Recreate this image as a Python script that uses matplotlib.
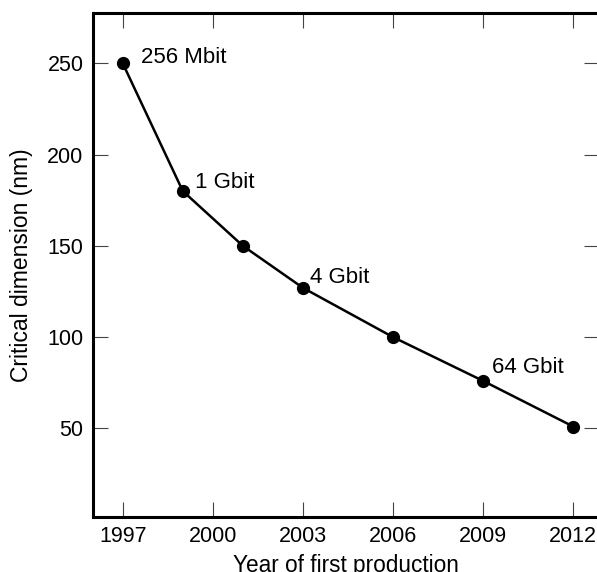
import matplotlib
matplotlib.use('Agg')
import matplotlib.pyplot as plt

years = [1997, 1999, 2001, 2003, 2006, 2009, 2012]
dims = [250, 180, 150, 127, 100, 76, 51]
labels = ['256 Mbit', '1 Gbit', '', '4 Gbit', '', '64 Gbit', '']
# label offsets in points (dx, dy) from the marker
offsets = [(13, 0), (8.6, 2), (0, 0), (5, 3.4), (0, 0), (6.5, 5.8), (0, 0)]

xticks = [1997, 2000, 2003, 2006, 2009, 2012]
yticks = [50, 100, 150, 200, 250]

plt.rcParams['font.family'] = ['Liberation Sans', 'DejaVu Sans']

fig = plt.figure(figsize=(5.97, 5.72), dpi=100)
ax = fig.add_axes([0.1563, 0.0967, 1.0034 - 0.1563, 0.9767 - 0.0967])

ax.plot(years, dims, color='black', lw=1.8, marker='o', markersize=8.5)
for x, y, t, (dx, dy) in zip(years, dims, labels, offsets):
    if t:
        ax.annotate(t, (x, y), xytext=(dx, dy), textcoords='offset points',
                    fontsize=16, ha='left', va='baseline')

ax.set_xlim(1996.02, 2012.86)
ax.set_ylim(1.6, 277.4)
ax.set_xticks(xticks)
ax.set_yticks(yticks)
ax.tick_params(direction='in', length=10.5, width=0.8, color='#444444',
               top=True, right=True, labelsize=15.5, pad=7)
for s in ax.spines.values():
    s.set_linewidth(2.2)

ax.set_xlabel('Year of first production', fontsize=16.3, labelpad=5)
ax.set_ylabel('Critical dimension (nm)', fontsize=16.5, labelpad=10)

fig.savefig('out.png', dpi=100)
